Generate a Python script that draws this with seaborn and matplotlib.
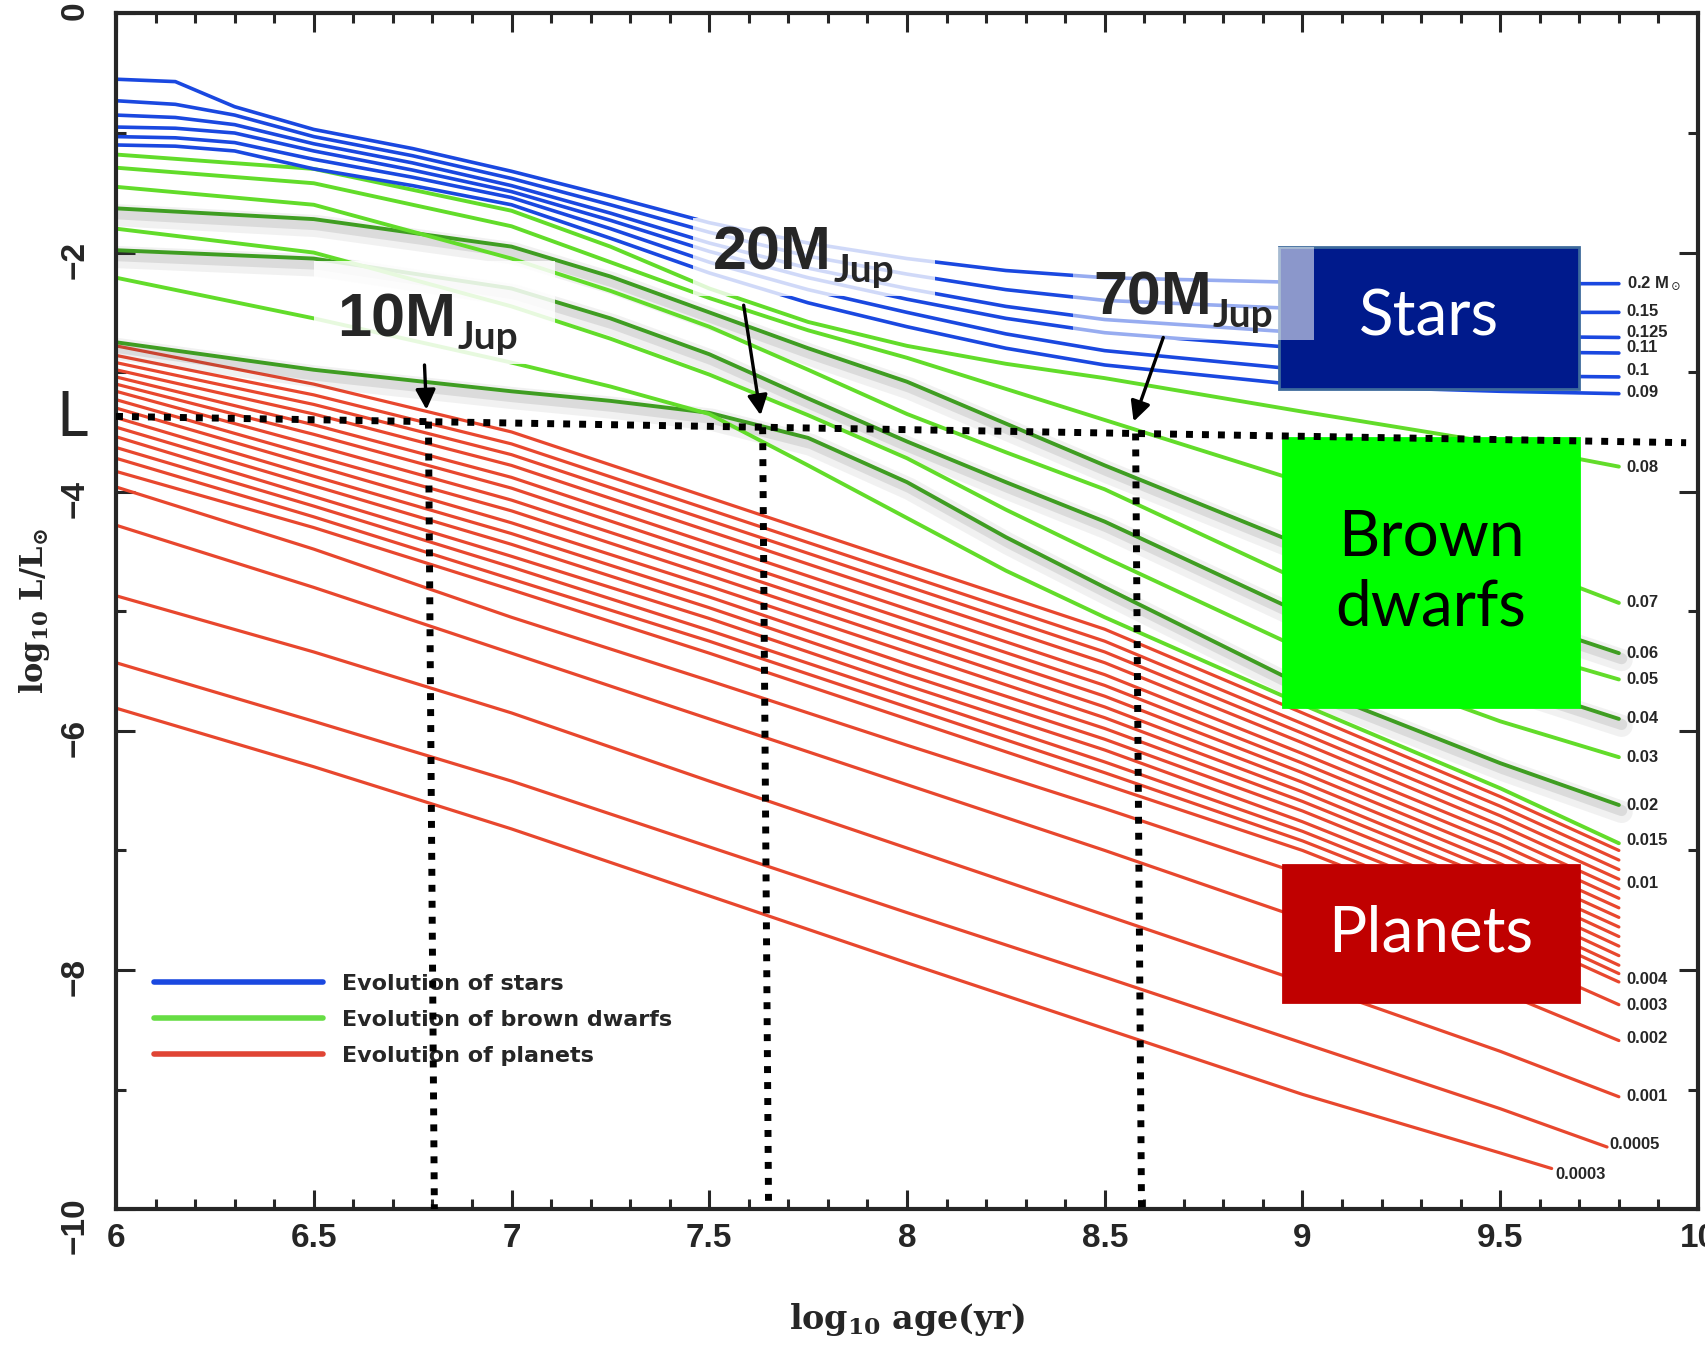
import numpy as np
import pandas as pd
import matplotlib
matplotlib.use("Agg")
import matplotlib.pyplot as plt
import matplotlib.patheffects as pe
from matplotlib.patches import Rectangle
from matplotlib.lines import Line2D
from matplotlib.ticker import MultipleLocator, FuncFormatter
import seaborn as sns

# --- data (log10 age in yr, log10 L/Lsun) ---
STAR_AGE = [6.0, 6.15, 6.3, 6.5, 6.75, 7.0, 7.25, 7.5, 7.75, 8.0, 8.25, 8.5, 9.0, 9.5, 9.8]
STAR_MASS = ["0.2", "0.15", "0.125", "0.11", "0.1", "0.09"]
STAR_LOGL = [
    [-0.55, -0.57, -0.78, -0.97, -1.13, -1.32, -1.53, -1.75, -1.92, -2.05, -2.15, -2.21, -2.25, -2.26, -2.26],
    [-0.73, -0.76, -0.85, -1.03, -1.19, -1.38, -1.60, -1.83, -2.03, -2.18, -2.31, -2.40, -2.47, -2.50, -2.50],
    [-0.85, -0.87, -0.93, -1.09, -1.25, -1.44, -1.67, -1.92, -2.13, -2.30, -2.45, -2.56, -2.67, -2.70, -2.71],
    [-0.95, -0.96, -1.00, -1.15, -1.31, -1.49, -1.73, -1.99, -2.21, -2.39, -2.55, -2.67, -2.80, -2.83, -2.84],
    [-1.03, -1.04, -1.08, -1.22, -1.37, -1.54, -1.80, -2.08, -2.31, -2.50, -2.68, -2.82, -2.98, -3.03, -3.04],
    [-1.10, -1.11, -1.15, -1.30, -1.44, -1.60, -1.88, -2.17, -2.42, -2.62, -2.80, -2.94, -3.11, -3.16, -3.18],
]

BD_AGE = [6.0, 6.5, 7.0, 7.25, 7.5, 7.75, 8.0, 8.25, 8.5, 9.0, 9.5, 9.8]
BD_MASS = ["0.08", "0.07", "0.06", "0.05", "0.04", "0.03", "0.02", "0.015"]
BD_DARK = [False, False, True, False, True, False, True, False]
BD_LOGL = [
    [-1.18, -1.30, -1.65, -1.95, -2.30, -2.58, -2.78, -2.93, -3.05, -3.33, -3.60, -3.79],
    [-1.29, -1.42, -1.78, -2.08, -2.38, -2.65, -2.88, -3.14, -3.40, -3.92, -4.55, -4.93],
    [-1.63, -1.72, -1.95, -2.20, -2.50, -2.80, -3.08, -3.43, -3.78, -4.45, -5.02, -5.35],
    [-1.45, -1.60, -2.05, -2.32, -2.62, -2.98, -3.35, -3.67, -3.98, -4.75, -5.28, -5.57],
    [-1.98, -2.05, -2.30, -2.55, -2.85, -3.22, -3.58, -3.92, -4.25, -5.02, -5.58, -5.90],
    [-1.80, -2.00, -2.45, -2.72, -3.02, -3.36, -3.72, -4.15, -4.55, -5.32, -5.92, -6.22],
    [-2.75, -2.98, -3.16, -3.24, -3.34, -3.55, -3.92, -4.38, -4.80, -5.62, -6.27, -6.62],
    [-2.21, -2.55, -2.92, -3.12, -3.35, -3.78, -4.22, -4.66, -5.05, -5.78, -6.48, -6.94],
]

PLANET_AGE = [6.0, 6.5, 7.0, 7.5, 8.0, 8.5, 9.0, 9.5, 9.8]
PLANET_LOGL = [
    [-2.78, -3.10, -3.50, -4.05, -4.60, -5.15, -5.85, -6.55, -7.00],
    [-2.86, -3.19, -3.60, -4.15, -4.70, -5.25, -5.94, -6.63, -7.08],
    [-2.92, -3.27, -3.69, -4.24, -4.79, -5.34, -6.02, -6.71, -7.16],
    [-2.98, -3.35, -3.78, -4.33, -4.88, -5.43, -6.10, -6.79, -7.24],
    [-3.04, -3.44, -3.88, -4.43, -4.98, -5.53, -6.19, -6.87, -7.32],
    [-3.10, -3.52, -3.97, -4.52, -5.07, -5.62, -6.27, -6.95, -7.40],
    [-3.16, -3.61, -4.07, -4.61, -5.16, -5.71, -6.35, -7.03, -7.48],
    [-3.23, -3.70, -4.16, -4.70, -5.25, -5.80, -6.43, -7.11, -7.56],
    [-3.30, -3.78, -4.26, -4.79, -5.34, -5.89, -6.51, -7.19, -7.64],
    [-3.38, -3.87, -4.35, -4.88, -5.44, -5.98, -6.59, -7.26, -7.72],
    [-3.46, -3.95, -4.44, -4.97, -5.53, -6.07, -6.67, -7.34, -7.80],
    [-3.54, -4.04, -4.54, -5.06, -5.62, -6.16, -6.76, -7.42, -7.88],
    [-3.63, -4.12, -4.63, -5.16, -5.71, -6.26, -6.84, -7.50, -7.96],
    [-3.72, -4.21, -4.73, -5.25, -5.80, -6.35, -6.92, -7.57, -8.03],
    [-3.83, -4.30, -4.82, -5.35, -5.90, -6.45, -7.00, -7.65, -8.10],
    [-3.96, -4.48, -5.05, -5.58, -6.12, -6.65, -7.20, -7.85, -8.29],
    [-4.28, -4.80, -5.35, -5.90, -6.45, -7.00, -7.57, -8.18, -8.59],
    [-4.87, -5.34, -5.85, -6.42, -6.98, -7.54, -8.10, -8.68, -9.06],
    [-5.43, -5.92, -6.42, -6.97, -7.52, -8.06, -8.61, -9.16, -9.48],
    [-5.81, -6.30, -6.82, -7.38, -7.94, -8.49, -9.04, -9.53, -9.66],
]
PLANET_LAST_AGE = [9.8] * 18 + [9.77, 9.63]

# mass labels at the right end of the tracks
MASS_TEXT = ["0.2 M$_\\odot$", "0.15", "0.125", "0.11", "0.1", "0.09", "0.08", "0.07",
             "0.06", "0.05", "0.04", "0.03", "0.02", "0.015", "0.01", "0.004",
             "0.003", "0.002", "0.001", "0.0005", "0.0003"]
MASS_TEXT_Y = [-2.26, -2.49, -2.67, -2.79, -2.99, -3.17, -3.80, -4.93, -5.35, -5.57,
               -5.90, -6.22, -6.62, -6.92, -7.28, -8.08, -8.30, -8.57, -9.06, -9.46, -9.71]
MASS_TEXT_X = [9.82] * 19 + [9.775, 9.64]

# luminosity threshold L and the crossing ages
L_AGE = [6.0, 9.97]
L_LOGL = [-3.37, -3.59]
CROSS_AGE = [6.79, 7.635, 8.578]
CROSS_TEXT = ["10M", "20M", "70M"]

BLUE = "#1a48e0"
GREEN = "#62dc2a"
DARK_GREEN = "#3f9d22"
RED = "#e8472e"

rows = []
for name, vals in zip(STAR_MASS, STAR_LOGL):
    for a, v in zip(STAR_AGE, vals):
        rows.append({"age": a, "logL": v, "track": "s" + name, "kind": "star"})
for name, dark, vals in zip(BD_MASS, BD_DARK, BD_LOGL):
    for a, v in zip(BD_AGE, vals):
        rows.append({"age": a, "logL": v, "track": "b" + name,
                     "kind": "bd_dark" if dark else "bd"})
for i, (vals, last) in enumerate(zip(PLANET_LOGL, PLANET_LAST_AGE)):
    for a, v in zip(PLANET_AGE[:-1] + [last], vals):
        rows.append({"age": a, "logL": v, "track": "p%d" % i, "kind": "planet"})
df = pd.DataFrame(rows)

sns.set_style("ticks")
plt.rcParams["font.family"] = ["Liberation Sans", "DejaVu Sans"]
plt.rcParams["mathtext.fontset"] = "dejavuserif"

fig = plt.figure(figsize=(17.06, 13.45), dpi=100)
ax = fig.add_axes([0.068, 0.101, 0.9273, 0.889])

glow = [pe.SimpleLineShadow(offset=(2, -5), shadow_color="0.25", alpha=0.07, linewidth=16),
        pe.SimpleLineShadow(offset=(2, -4), shadow_color="0.25", alpha=0.12, linewidth=8),
        pe.Normal()]

sns.lineplot(data=df[df.kind == "planet"], x="age", y="logL", units="track",
             estimator=None, sort=False, color=RED, linewidth=2.3, legend=False, ax=ax)
sns.lineplot(data=df[df.kind == "bd_dark"], x="age", y="logL", units="track",
             estimator=None, sort=False, color=DARK_GREEN, linewidth=2.8, legend=False,
             path_effects=glow, ax=ax)
sns.lineplot(data=df[df.kind == "bd"], x="age", y="logL", units="track",
             estimator=None, sort=False, color=GREEN, linewidth=2.8, legend=False, ax=ax)
sns.lineplot(data=df[df.kind == "star"], x="age", y="logL", units="track",
             estimator=None, sort=False, color=BLUE, linewidth=2.6, legend=False, ax=ax)

for t, x, y in zip(MASS_TEXT, MASS_TEXT_X, MASS_TEXT_Y):
    ax.text(x, y, t, fontsize=12, fontweight="bold", va="center", ha="left", zorder=3)

# legend
handles = [Line2D([], [], color=BLUE, lw=4), Line2D([], [], color="#66dd44", lw=4),
           Line2D([], [], color="#e04434", lw=4)]
ax.legend(handles, ["Evolution of stars", "Evolution of brown dwarfs", "Evolution of planets"],
          loc="upper left", bbox_to_anchor=(0.024, 0.197), frameon=False, handlelength=7.6,
          handletextpad=0.85, labelspacing=0.72, borderpad=0, borderaxespad=0,
          prop={"family": "DejaVu Sans", "weight": "bold", "size": 16})

# category boxes
boxes = [((8.94, -3.14), 0.76, 1.19, "#001a8c", "Stars", "white"),
         ((8.95, -5.80), 0.75, 2.25, "#00ff00", "Brown\ndwarfs", "black"),
         ((8.95, -8.27), 0.75, 1.15, "#c00000", "Planets", "white")]
for (bx, by), w, h, fc, txt, tc in boxes:
    ax.add_patch(Rectangle((bx, by), w, h, facecolor=fc,
                           edgecolor="#3d6a9c" if txt == "Stars" else fc,
                           lw=2, zorder=6))
    ax.text(bx + w / 2, by + h / 2, txt, ha="center", va="center", color=tc,
            fontsize=46, family="Lato", linespacing=1.25, zorder=6.2)

# Jupiter-mass labels with translucent boxes
label_boxes = [((6.50, -2.93), 0.61, 0.86, 0.85),
               ((7.46, -2.36), 0.61, 0.65, 0.80),
               ((8.42, -2.73), 0.61, 0.78, 0.55)]
label_pos = [(6.56, -2.70), (7.51, -2.14), (8.47, -2.52)]
arrow_from = [(6.78, -2.94), (7.587, -2.44), (8.648, -2.71)]
for (bxy, w, h, a), (tx, ty), txt, src, xc in zip(label_boxes, label_pos, CROSS_TEXT,
                                                 arrow_from, CROSS_AGE):
    ax.add_patch(Rectangle(bxy, w, h, facecolor="white", edgecolor="none", alpha=a,
                           zorder=6.5))
    t1 = ax.text(tx, ty, txt, fontsize=44, fontweight="bold", ha="left", va="baseline",
                 zorder=7)
    ax.annotate("Jup", xy=(1, 0), xycoords=t1, xytext=(1, -4), textcoords="offset points",
                fontsize=28, fontweight="bold", family="Lato", ha="left", va="bottom",
                zorder=7)
    yc = np.interp(xc, L_AGE, L_LOGL)
    ax.annotate("", xy=(xc - 0.005, yc + 0.1), xytext=src,
                arrowprops=dict(arrowstyle="-|>", color="black", lw=2.4,
                                mutation_scale=30, shrinkA=0, shrinkB=0), zorder=7)
    ax.plot([xc, xc + 0.015], [yc, -10], color="black", lw=5, ls=(0, (1, 1.3)),
            zorder=7)

ax.plot(L_AGE, L_LOGL, color="black", lw=5, ls=(0, (1, 1.3)), zorder=7)
fig.text(0.042, 0.689, "L", fontsize=44, family="Lato", ha="center", va="center")

ax.set_xlim(6, 10)
ax.set_ylim(-10, 0)
ax.xaxis.set_major_locator(MultipleLocator(0.5))
ax.xaxis.set_minor_locator(MultipleLocator(0.1))
ax.yaxis.set_major_locator(MultipleLocator(2))
ax.yaxis.set_minor_locator(MultipleLocator(1))
ax.xaxis.set_major_formatter(FuncFormatter(lambda v, p: "%g" % v))
ax.yaxis.set_major_formatter(FuncFormatter(lambda v, p: ("%g" % v).replace("-", "\u2212")))
ax.tick_params(which="both", direction="in", top=True, right=True, width=2.2,
               labelsize=24)
ax.tick_params(which="major", length=14)
ax.tick_params(which="minor", length=7)
ax.tick_params(axis="x", pad=10)
ax.tick_params(axis="y", labelrotation=90, pad=18)
for lab in ax.get_xticklabels() + ax.get_yticklabels():
    lab.set_fontweight("bold")
for s in ax.spines.values():
    s.set_linewidth(3)

ax.set_xlabel(r"$\mathbf{log_{10}\ age(yr)}$", fontsize=24, labelpad=34)
ax.set_ylabel(r"$\mathbf{log_{10}\ L/L_{\odot}}$", fontsize=22, labelpad=6)

fig.savefig("out.png", dpi=100)
